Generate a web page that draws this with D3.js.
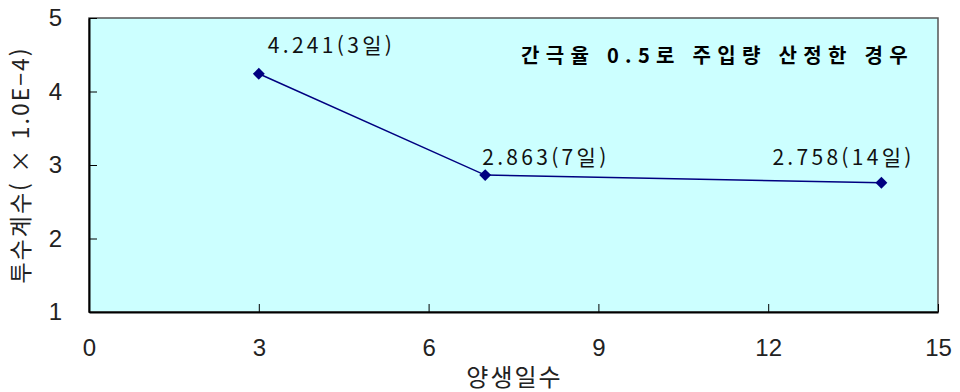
<!DOCTYPE html>
<html lang="ko">
<head>
  <meta charset="UTF-8">
  <title></title>
  <style>body{margin:0;background:#fff;}</style>
</head>
<body>
  <script src="https://d3js.org/d3.v7.min.js"></script>
  <script>
    const days = [3, 7, 14];
    const coeffs = [4.241, 2.863, 2.758];
    const pointLabels = ["4.241(3일)", "2.863(7일)", "2.758(14일)"];
    const xTicks = [0, 3, 6, 9, 12, 15];
    const yTicks = [1, 2, 3, 4, 5];
    const title = "간극율 0.5로 주입량 산정한 경우";

    const [width, height] = [960, 392];
    const margin = { top: 18, right: 22, bottom: 80, left: 89 };
    const latin = "'Liberation Sans', Arial, sans-serif";
    const korean = "'Noto Sans CJK KR', sans-serif";

    const x = d3.scaleLinear().domain([0, 15]).range([margin.left, width - margin.right]);
    const y = d3.scaleLinear().domain([1, 5]).range([height - margin.bottom, margin.top]);

    const svg = d3.select(document.body)
      .append("svg")
      .attr("width", width)
      .attr("height", height)
      .attr("viewBox", [0, 0, width, height]);

    svg.append("rect")
      .attr("x", x(0)).attr("y", y(5))
      .attr("width", x(15) - x(0)).attr("height", y(1) - y(5))
      .attr("fill", "#ccffff")
      .attr("stroke", "#555").attr("stroke-width", 1.5);

    // axes with ticks pointing into the plot
    svg.append("g")
      .attr("transform", `translate(0,${y(1)})`)
      .call(d3.axisBottom(x).tickValues(xTicks).tickFormat(d3.format("d"))
        .tickSizeInner(-8).tickSizeOuter(0).tickPadding(27))
      .call(g => g.select(".domain").attr("stroke-width", 2))
      .call(g => g.selectAll(".tick text").attr("font-family", latin).attr("font-size", 24).attr("fill", "#222"));

    svg.append("g")
      .attr("transform", `translate(${x(0)},0)`)
      .call(d3.axisLeft(y).tickValues(yTicks).tickFormat(d3.format("d"))
        .tickSizeInner(-8).tickSizeOuter(0).tickPadding(27))
      .call(g => g.select(".domain").attr("stroke-width", 2))
      .call(g => g.selectAll(".tick text").attr("font-family", latin).attr("font-size", 24).attr("fill", "#222"));

    svg.append("text")
      .attr("x", (x(0) + x(15)) / 2 + 1).attr("y", 386)
      .attr("text-anchor", "middle")
      .attr("font-family", korean).attr("font-size", 24).attr("fill", "#222")
      .attr("letter-spacing", 2)
      .text("양생일수");

    svg.append("text")
      .attr("transform", `translate(29,${(y(1) + y(5)) / 2}) rotate(-90)`)
      .attr("text-anchor", "middle")
      .attr("font-family", korean).attr("font-size", 23).attr("fill", "#222")
      .attr("letter-spacing", 2)
      .text("투수계수( × 1.0E−4)");

    const pts = days.map((d, i) => [d, coeffs[i]]);

    svg.append("path")
      .datum(pts)
      .attr("fill", "none")
      .attr("stroke", "#000080")
      .attr("stroke-width", 1.5)
      .attr("d", d3.line().x(d => x(d[0])).y(d => y(d[1])));

    svg.append("g")
      .selectAll("path")
      .data(pts)
      .join("path")
      .attr("transform", d => `translate(${x(d[0])},${y(d[1])})`)
      .attr("d", d3.symbol(d3.symbolDiamond2, 90))
      .attr("fill", "#000080");

    // label offsets from each marker
    const labelDx = [9, -3, -109];
    const labelDy = [-21, -10, -18];
    svg.append("g")
      .selectAll("text")
      .data(pts)
      .join("text")
      .attr("x", (d, i) => x(d[0]) + labelDx[i])
      .attr("y", (d, i) => y(d[1]) + labelDy[i])
      .attr("font-family", korean).attr("font-size", 21).attr("fill", "#111")
      .attr("letter-spacing", 3.3)
      .text((d, i) => pointLabels[i]);

    svg.append("text")
      .attr("x", 521).attr("y", 63)
      .attr("font-family", korean).attr("font-size", 20).attr("font-weight", "bold")
      .attr("letter-spacing", 6.3)
      .text(title);
  </script>
</body>
</html>
